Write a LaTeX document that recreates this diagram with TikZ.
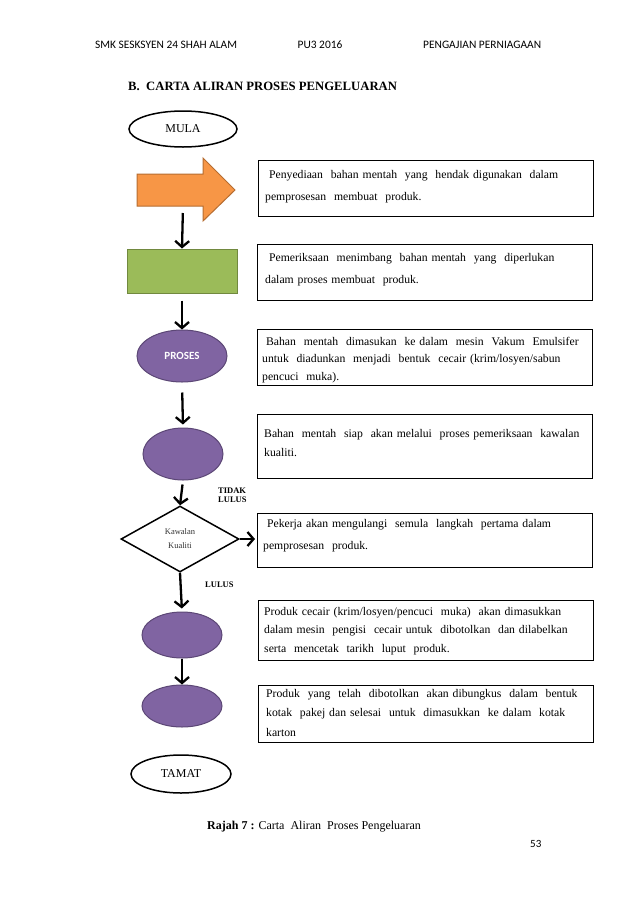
\documentclass[tikz,border=0pt]{standalone}
\usepackage{fontspec}
\setmainfont{Liberation Serif}
\newfontfamily\calib{Carlito}
\usetikzlibrary{shapes.geometric,arrows.meta}
\definecolor{purp}{HTML}{8064A2}
\definecolor{purpd}{HTML}{5C4776}
\definecolor{orng}{HTML}{F79646}
\definecolor{orngd}{HTML}{B66D31}
\definecolor{grn}{HTML}{9BBB59}
\definecolor{grnd}{HTML}{71893F}
\begin{document}
\begin{tikzpicture}[x=1pt,y=-1pt,
  hdr/.style={font=\calib\fontsize{11.4}{13}\selectfont, inner sep=0pt},
  term/.style={ellipse, draw=black, line width=1.5pt, fill=white, inner sep=0pt, font=\fontsize{12}{14}\selectfont},
  pell/.style={ellipse, draw=purpd, line width=1pt, fill=purp, inner sep=0pt, minimum width=80pt},
  tbox/.style={draw=black, line width=0.9pt, minimum width=335pt, anchor=north west, inner sep=0pt},
  ttext/.style={anchor=base west, inner sep=0pt, text width=330pt, align=left},
  flow/.style={line width=2.3pt, -{Straight Barb[length=6pt,width=14pt]}},
  lab/.style={font=\bfseries\fontsize{8.5}{11}\selectfont, inner sep=0pt, align=left}
]
\useasboundingbox[fill=white] (0,0) rectangle (638,903);

% header
\node[hdr, anchor=base west] (h1) at (95,48) {SMK SESKSYEN 24 SHAH ALAM};
\node[hdr, anchor=base] (h2) at (320,48) {PU3 2016};
\node[hdr, anchor=base west] (h3) at (423,48) {PENGAJIAN PERNIAGAAN};
\node[anchor=base west, inner sep=0pt, font=\bfseries\fontsize{12.7}{14}\selectfont] (title) at (128,90) {B.\ \ CARTA\ ALIRAN PROSES PENGELUARAN};

% flow shapes
\node[term, minimum width=108pt, minimum height=36pt] (mula) at (183,129) {MULA};
\path[fill=orng, draw=orngd, line width=1pt] (137,174) -- (203,174) -- (203,158) -- (235,190) -- (203,221) -- (203,206) -- (137,206) -- cycle;
\coordinate (orbot) at (183,206);
\node[draw=grnd, line width=1pt, fill=grn, minimum width=110pt, minimum height=44pt, inner sep=0pt] (green) at (182,271) {};
\node[pell, minimum width=90pt, minimum height=52pt, text=white, font=\calib\bfseries\fontsize{11}{13}\selectfont] (pr) at (182,356) {PROSES};
\node[pell, minimum height=52pt] (e2) at (183,454) {};
\node[diamond, draw=black, line width=1.5pt, fill=white, minimum width=118pt, minimum height=66pt, inner sep=0pt, align=center, font=\fontsize{8.5}{14}\selectfont, text=black!80] (kk) at (180,539) {Kawalan\\Kualiti};
\node[pell, minimum height=46pt] (e3) at (182,635) {};
\node[pell, minimum height=42pt] (e4) at (182,706) {};
\node[term, minimum width=100pt, minimum height=38pt] (tamat) at (181,774) {TAMAT};

% labels
\node[lab, anchor=north west] (tidak) at (218,488) {TIDAK\\[-2pt]LULUS};
\node[lab, anchor=base west] (lulus) at (205,587) {LULUS};

% text boxes
\node[tbox, minimum height=56pt] (b1) at (258,160) {};
\node[ttext, font=\fontsize{11.7}{22}\selectfont] (t1) at (265,178) {\ Penyediaan\ \ bahan mentah\ \ yang\ \ hendak\ digunakan\ \ dalam\\pemprosesan\ \ membuat\ \ produk.};
\node[tbox, minimum height=56pt] (b2) at (257,244) {};
\node[ttext, font=\fontsize{11.7}{22}\selectfont] (t2) at (265,261) {\ Pemeriksaan\ \ menimbang\ \ bahan mentah\ \ yang\ \ diperlukan\\dalam proses membuat\ \ produk.};
\node[tbox, minimum height=56pt] (b3) at (257,329) {};
\node[ttext, font=\fontsize{11.7}{17.5}\selectfont] (t3) at (262,345) {\ Bahan\ \ mentah\ \ dimasukan\ \ ke dalam\ \ mesin\ \ Vakum\ \ Emulsifer\\untuk\ \ diadunkan\ \ menjadi\ \ bentuk\ \ cecair\ (krim/losyen/sabun\\pencuci\ \ muka).};
\node[tbox, minimum height=64pt] (b4) at (257,414) {};
\node[ttext, font=\fontsize{11.7}{19}\selectfont] (t4) at (264,437) {Bahan\ \ mentah\ \ siap\ \ akan melalui\ \ proses pemeriksaan\ \ kawalan\\kualiti.};
\node[tbox, minimum height=54pt] (b5) at (257,513) {};
\node[ttext, font=\fontsize{11.7}{22}\selectfont] (t5) at (263,527) {\ Pekerja akan mengulangi\ \ semula\ \ langkah\ \ pertama dalam\\pemprosesan\ \ produk.};
\node[tbox, minimum height=60pt] (b6) at (258,600) {};
\node[ttext, font=\fontsize{11.7}{18.5}\selectfont] (t6) at (264,615) {Produk\ cecair\ (krim/losyen/pencuci\ \ muka)\ \ akan dimasukkan\\dalam mesin\ \ pengisi\ \ cecair\ untuk\ \ dibotolkan\ \ dan dilabelkan\\serta\ \ mencetak\ \ tarikh\ \ luput\ \ produk.};
\node[tbox, minimum height=57pt] (b7) at (258,685) {};
\node[ttext, font=\fontsize{11.7}{19.5}\selectfont] (t7) at (266,697) {Produk\ \ yang\ \ telah\ \ dibotolkan\ \ akan dibungkus\ \ dalam\ \ bentuk\\kotak\ \ pakej dan\ selesai\ \ untuk\ \ dimasukkan\ \ ke dalam\ \ kotak\\karton};

% connectors
\draw[flow, shorten <=7pt] (orbot) -- (green.north);
\draw[flow, shorten <=7pt] (green.south) -- (pr.north);
\draw[flow, shorten <=10pt, shorten >=3pt] (pr.south) -- (e2.north);
\draw[flow, shorten <=4pt] (e2.south) -- (kk.north);
\draw[flow, shorten >=2pt] (kk.east) -- (b5.west |- kk.east);
\draw[flow, shorten >=3pt] (kk.south) -- (e3.north);
\draw[flow] (e3.south) -- (e4.north);

% caption
\node[anchor=base west, inner sep=0pt, font=\fontsize{12}{14}\selectfont] (cap) at (207,829) {\textbf{Rajah 7 :} Carta\ \ Aliran\ \ Proses\ Pengeluaran};
\node[hdr, anchor=base west, font=\calib\fontsize{11}{12}\selectfont] (pg) at (530,847) {53};
\end{tikzpicture}
\end{document}
